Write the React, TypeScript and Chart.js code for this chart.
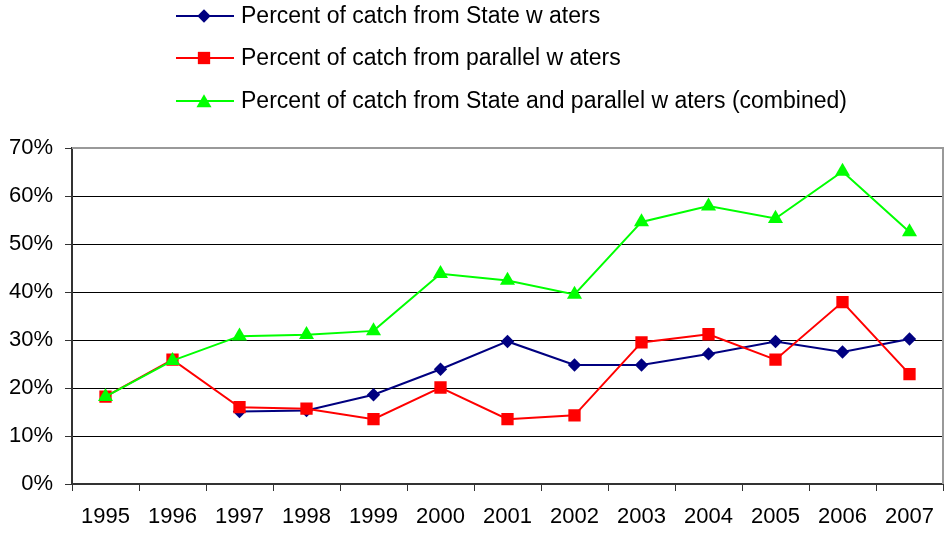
import React, { useEffect, useRef } from "react";
import { Chart, registerables } from "chart.js";

Chart.register(...registerables);

const years = ["1995", "1996", "1997", "1998", "1999", "2000", "2001", "2002", "2003", "2004", "2005", "2006", "2007"];
const stateWaters = [null, null, 15.1, 15.3, 18.6, 23.9, 29.7, 24.8, 24.8, 27.1, 29.7, 27.5, 30.2];
const parallelWaters = [18.2, 25.9, 16.0, 15.7, 13.5, 20.1, 13.5, 14.3, 29.5, 31.2, 25.9, 37.9, 22.9];
const combinedWaters = [18.2, 25.7, 30.8, 31.1, 31.9, 43.8, 42.4, 39.5, 54.6, 57.9, 55.3, 65.1, 52.5];
const yTicks = [0, 10, 20, 30, 40, 50, 60, 70];

const labelState = "Percent of catch from State w aters";
const labelParallel = "Percent of catch from parallel w aters";
const labelCombined = "Percent of catch from State and parallel w aters (combined)";

const FONT = '"Liberation Sans", Arial, sans-serif';

function drawMarker(ctx: CanvasRenderingContext2D, style: string, x: number, y: number, r: number, color: string) {
  ctx.save();
  ctx.fillStyle = color;
  ctx.beginPath();
  if (style === "rectRot") {
    ctx.moveTo(x, y - r);
    ctx.lineTo(x + r, y);
    ctx.lineTo(x, y + r);
    ctx.lineTo(x - r, y);
  } else if (style === "rect") {
    const s = r * Math.SQRT1_2;
    ctx.rect(x - s, y - s, 2 * s, 2 * s);
  } else {
    ctx.moveTo(x, y - r);
    ctx.lineTo(x + r * Math.sin((2 * Math.PI) / 3), y + r / 2);
    ctx.lineTo(x - r * Math.sin((2 * Math.PI) / 3), y + r / 2);
  }
  ctx.closePath();
  ctx.fill();
  ctx.restore();
}

const legendPlugin = {
  id: "customLegend",
  afterDraw(chart: any) {
    const ctx = chart.ctx as CanvasRenderingContext2D;
    const items = [
      { text: labelState, color: "#000080", style: "rectRot", r: 6.7, y: 16 },
      { text: labelParallel, color: "#FF0000", style: "rect", r: 8.7, y: 58 },
      { text: labelCombined, color: "#00FF00", style: "triangle", r: 8.7, y: 101 },
    ];
    ctx.save();
    for (const it of items) {
      ctx.strokeStyle = it.color;
      ctx.lineWidth = 2;
      ctx.beginPath();
      ctx.moveTo(176, it.y);
      ctx.lineTo(234, it.y);
      ctx.stroke();
      drawMarker(ctx, it.style, 204, it.style === "triangle" ? it.y + 2 : it.y, it.r, it.color);
      ctx.fillStyle = "#000";
      ctx.font = "23px " + FONT;
      ctx.textBaseline = "middle";
      ctx.textAlign = "left";
      ctx.fillText(it.text, 241, it.y + 1);
    }
    ctx.restore();
  },
};

const borderPlugin = {
  id: "plotBorder",
  afterDraw(chart: any) {
    const { ctx, chartArea } = chart;
    ctx.save();
    ctx.strokeStyle = "#999999";
    ctx.lineWidth = 2;
    ctx.beginPath();
    ctx.moveTo(chartArea.left, chartArea.top);
    ctx.lineTo(chartArea.right, chartArea.top);
    ctx.lineTo(chartArea.right, chartArea.bottom);
    ctx.stroke();
    ctx.restore();
  },
};

export default function App() {
  const canvasRef = useRef<HTMLCanvasElement | null>(null);

  useEffect(() => {
    document.body.style.margin = "0";
    const canvas = canvasRef.current;
    if (!canvas) return;
    const chart = new Chart(canvas, {
      type: "line",
      data: {
        labels: years,
        datasets: [
          {
            label: labelState,
            data: stateWaters,
            borderColor: "#000080",
            backgroundColor: "#000080",
            borderWidth: 2,
            pointStyle: "rectRot",
            pointRadius: 6.7,
            pointBorderWidth: 0,
            spanGaps: false,
            order: 3,
          },
          {
            label: labelParallel,
            data: parallelWaters,
            borderColor: "#FF0000",
            backgroundColor: "#FF0000",
            borderWidth: 2,
            pointStyle: "rect",
            pointRadius: 8.7,
            pointBorderWidth: 0,
            order: 2,
          },
          {
            label: labelCombined,
            data: combinedWaters,
            borderColor: "#00FF00",
            backgroundColor: "#00FF00",
            borderWidth: 2,
            pointStyle: "triangle",
            pointRadius: 8.7,
            pointBorderWidth: 0,
            order: 1,
          },
        ],
      },
      options: {
        animation: false,
        responsive: false,
        maintainAspectRatio: false,
        devicePixelRatio: 1,
        layout: { autoPadding: false, padding: { top: 148, right: 4, left: 0, bottom: 0 } },
        elements: { line: { tension: 0 } },
        plugins: {
          legend: { display: false },
          tooltip: { enabled: false },
        },
        scales: {
          x: {
            type: "category",
            offset: true,
            grid: {
              display: true,
              drawOnChartArea: false,
              offset: true,
              tickLength: 7,
              tickColor: "#333333",
              tickWidth: 1,
            },
            border: { display: true, color: "#333333", width: 2 },
            ticks: {
              color: "#000",
              font: { family: FONT, size: 22 },
              padding: 13,
              maxRotation: 0,
              autoSkip: false,
            },
            afterFit(scale: any) {
              scale.height = 50;
              scale.paddingLeft = 0;
              scale.paddingRight = 0;
            },
          },
          y: {
            min: 0,
            max: 70,
            afterBuildTicks(scale: any) {
              scale.ticks = yTicks.map((v) => ({ value: v }));
            },
            grid: {
              color: (c: any) => (c.tick && c.tick.value === 70 ? "rgba(0,0,0,0)" : "#000000"),
              lineWidth: 1,
              tickLength: 7,
              tickColor: "#333333",
              drawTicks: true,
            },
            border: { display: true, color: "#333333", width: 2 },
            ticks: {
              color: "#000",
              font: { family: FONT, size: 22 },
              padding: 12,
              callback: (v: any) => v + "%",
            },
            afterFit(scale: any) {
              scale.width = 72;
              scale.paddingTop = 0;
              scale.paddingBottom = 0;
            },
          },
        },
      },
      plugins: [legendPlugin, borderPlugin],
    });
    return () => chart.destroy();
  }, []);

  return (
    <div style={{ width: 947, height: 534, background: "#fff" }}>
      <canvas ref={canvasRef} width={947} height={534} style={{ display: "block" }} />
    </div>
  );
}
